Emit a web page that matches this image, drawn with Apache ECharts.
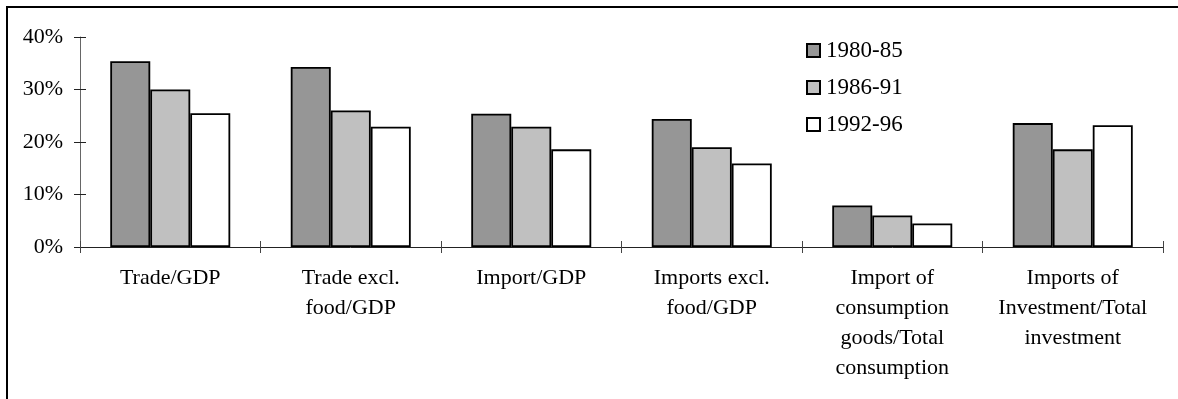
<!DOCTYPE html>
<html>
<head>
<meta charset="utf-8">
<script src="https://cdn.jsdelivr.net/npm/echarts@6/dist/echarts.min.js"></script>
<style>
  html, body { margin: 0; padding: 0; background: #ffffff; }
  #chart { width: 1178px; height: 399px; }
</style>
</head>
<body>
<div id="chart"></div>
<script>
var categories = [
  'Trade/GDP',
  'Trade excl.\nfood/GDP',
  'Import/GDP',
  'Imports excl.\nfood/GDP',
  'Import of\nconsumption\ngoods/Total\nconsumption',
  'Imports of\nInvestment/Total\ninvestment'
];
var seriesNames = ['1980-85', '1986-91', '1992-96'];
var values1980 = [35.4, 34.3, 25.4, 24.4, 7.9, 23.6];
var values1986 = [30.0, 26.0, 22.9, 19.0, 6.0, 18.6];
var values1992 = [25.5, 22.9, 18.6, 15.9, 4.5, 23.2];
var yTicks = [0, 10, 20, 30, 40];

var colors = ['#969696', '#c0c0c0', '#ffffff'];
var font = '"Liberation Serif", "DejaVu Serif", serif';
var allValues = [values1980, values1986, values1992];

var chart = echarts.init(document.getElementById('chart'), null, { renderer: 'canvas' });

var series = seriesNames.map(function (name, i) {
  return {
    name: name,
    type: 'bar',
    xAxisIndex: 0,
    yAxisIndex: 0,
    data: allValues[i],
    barWidth: 40,
    barGap: '0%',
    itemStyle: { color: colors[i], borderColor: '#000000', borderWidth: 1.8 },
    emphasis: { disabled: true }
  };
});

var yMin = yTicks[0], yMax = yTicks[yTicks.length - 1], yStep = yTicks[1] - yTicks[0];

chart.setOption({
  animation: false,
  backgroundColor: '#ffffff',
  textStyle: { fontFamily: font },
  graphic: [
    { type: 'line', shape: { x1: 6, y1: 7, x2: 1178, y2: 7 }, style: { stroke: '#000', lineWidth: 2 } },
    { type: 'line', shape: { x1: 7, y1: 6, x2: 7, y2: 399 }, style: { stroke: '#000', lineWidth: 2 } }
  ],
  legend: {
    orient: 'vertical',
    left: 801,
    top: 34,
    itemWidth: 13,
    itemHeight: 13,
    itemGap: 14,
    icon: 'rect',
    data: seriesNames,
    textStyle: { fontFamily: font, fontSize: 23, lineHeight: 23, color: '#000', padding: [0, 0, 0, 1] }
  },
  grid: { left: 80, right: 15, top: 37, bottom: 152, containLabel: false },
  xAxis: [{
    type: 'category',
    data: categories,
    axisLine: { lineStyle: { color: '#222', width: 1 } },
    axisTick: { show: true, length: 6, lineStyle: { color: '#444' } },
    axisLabel: {
      interval: 0,
      margin: 16,
      fontFamily: font,
      fontSize: 22,
      lineHeight: 30,
      color: '#000'
    }
  }, {
    type: 'category',
    data: categories,
    position: 'bottom',
    axisLine: { show: false },
    axisTick: { show: true, inside: true, length: 6, lineStyle: { color: '#444' } },
    axisLabel: { show: false }
  }],
  yAxis: [{
    type: 'value',
    min: yMin,
    max: yMax,
    interval: yStep,
    splitLine: { show: false },
    axisLine: { show: true, lineStyle: { color: '#666', width: 1 } },
    axisTick: { show: true, length: 6, lineStyle: { color: '#222' } },
    axisLabel: {
      formatter: '{value}%',
      margin: 17,
      fontFamily: font,
      fontSize: 22,
      color: '#000'
    }
  }, {
    type: 'value',
    position: 'left',
    min: yMin,
    max: yMax,
    interval: yStep,
    splitLine: { show: false },
    axisLine: { show: false },
    axisTick: { show: true, inside: true, length: 6, lineStyle: { color: '#222' } },
    axisLabel: { show: false }
  }],
  series: series
});
</script>
</body>
</html>
